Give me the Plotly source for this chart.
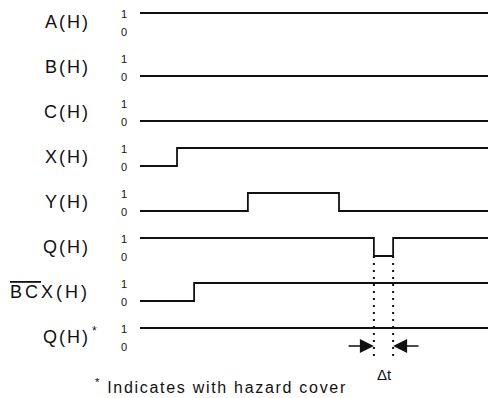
import plotly.graph_objects as go

# page is rendered with an 8px body margin, so the figure is sized to fit
OFF = 8
W, H = 496 - OFF, 398 - OFF

# ---- data: signal names, transition times (ns) and logic levels ----
signals = ["A(H)", "B(H)", "C(H)", "X(H)", "Y(H)", "Q(H)", "BCX(H)", "Q(H)*"]
A_t = [0, 100];               A_v = [1, 1]
B_t = [0, 100];               B_v = [0, 0]
C_t = [0, 100];               C_v = [0, 0]
X_t = [0, 10.4, 100];         X_v = [0, 1, 1]
Y_t = [0, 30.3, 55.9, 100];   Y_v = [0, 1, 0, 0]
Q_t = [0, 65.7, 71.1, 100];   Q_v = [1, 0, 1, 1]
BCX_t = [0, 15.2, 100];       BCX_v = [0, 1, 1]
Qs_t = [0, 100];              Qs_v = [1, 1]
level_labels = ["1", "0"]
hazard_start, hazard_end = 65.7, 71.1

traces_t = [A_t, B_t, C_t, X_t, Y_t, Q_t, BCX_t, Qs_t]
traces_v = [A_v, B_v, C_v, X_v, Y_v, Q_v, BCX_v, Qs_v]

# layout geometry (page-pixel mapping)
X0_PX = 140.0          # t=0 position on page
PX_PER_T = 3.56
ROW0_PX = 31.0         # baseline of first row on page
ROW_PX = 45.0          # row pitch
HIGH = 0.4             # height of logic 1 relative to row pitch

def tx(px):
    return (px - X0_PX) / PX_PER_T

def yrow(i, v):
    return -i + HIGH * v

def ypx(py):
    return -(py - ROW0_PX) / ROW_PX

INK = "#111111"
FONT = "Liberation Sans, Arial, sans-serif"

fig = go.Figure()
for i, (t, v) in enumerate(zip(traces_t, traces_v)):
    fig.add_trace(go.Scatter(
        x=t, y=[yrow(i, val) for val in v], mode="lines",
        line=dict(color=INK, width=1.8, shape="hv"),
        hoverinfo="skip", showlegend=False))

# dotted guide lines at hazard edges
for tt in (hazard_start, hazard_end):
    fig.add_trace(go.Scatter(
        x=[tt, tt], y=[yrow(5, 0), ypx(358)], mode="lines",
        line=dict(color=INK, width=2, dash="2px,5px"),
        hoverinfo="skip", showlegend=False))

ann = []
def ls(text, sp=2):
    return f'<span style="letter-spacing:{sp}px">{text}</span>'

for i, name in enumerate(signals):
    if name == "BCX(H)":
        txt = ('<span style="letter-spacing:3px">'
               '<span style="text-decoration:overline">B</span>'
               '<span style="text-decoration:overline">C</span>X(H)</span>')
        ann.append(dict(x=tx(92), y=yrow(i, 0.5), text=txt, xanchor="right",
                        yanchor="middle", showarrow=False,
                        font=dict(size=18, color=INK, family=FONT)))
    elif name == "Q(H)*":
        ann.append(dict(x=tx(92), y=yrow(i, 0.5), text=ls("Q(H)"), xanchor="right",
                        yanchor="middle", showarrow=False,
                        font=dict(size=18, color=INK, family=FONT)))
        ann.append(dict(x=tx(90), y=yrow(i, 0.82), text="*", xanchor="left",
                        yanchor="middle", showarrow=False,
                        font=dict(size=12, color=INK, family=FONT)))
    else:
        ann.append(dict(x=tx(92), y=yrow(i, 0.5), text=ls(name), xanchor="right",
                        yanchor="middle", showarrow=False,
                        font=dict(size=18, color=INK, family=FONT)))
    for lab, lv in zip(level_labels, [1, 0]):
        ann.append(dict(x=tx(124), y=yrow(i, lv * 1.0) - 0.02, text=lab,
                        xanchor="center", yanchor="middle", showarrow=False,
                        font=dict(size=11, color=INK, family=FONT)))

# delta-t arrows
ann.append(dict(x=hazard_start, y=ypx(346), ax=tx(347), ay=ypx(346),
                axref="x", ayref="y", xref="x", yref="y", text="",
                showarrow=True, arrowhead=2, arrowsize=2.0, arrowwidth=1.4,
                arrowcolor=INK, standoff=0))
ann.append(dict(x=hazard_end, y=ypx(346), ax=tx(420), ay=ypx(346),
                axref="x", ayref="y", xref="x", yref="y", text="",
                showarrow=True, arrowhead=2, arrowsize=2.0, arrowwidth=1.4,
                arrowcolor=INK, standoff=0))
ann.append(dict(x=tx(384), y=ypx(374), text="Δt", showarrow=False,
                xanchor="center", yanchor="middle",
                font=dict(size=15, color=INK, family=FONT)))
ann.append(dict(x=tx(221), y=ypx(386),
                text='<span style="letter-spacing:1.7px"><sup>*</sup> Indicates with hazard cover</span>',
                showarrow=False, xanchor="center", yanchor="middle",
                font=dict(size=16, color=INK, family=FONT)))

fig.update_layout(
    width=W, height=H, margin=dict(l=0, r=0, t=0, b=0),
    paper_bgcolor="white", plot_bgcolor="white",
    xaxis=dict(range=[tx(OFF), tx(OFF + W)], visible=False, fixedrange=True),
    yaxis=dict(range=[ypx(OFF + H), ypx(OFF)], visible=False, fixedrange=True),
    annotations=ann, showlegend=False)

fig.write_html("out.html")
